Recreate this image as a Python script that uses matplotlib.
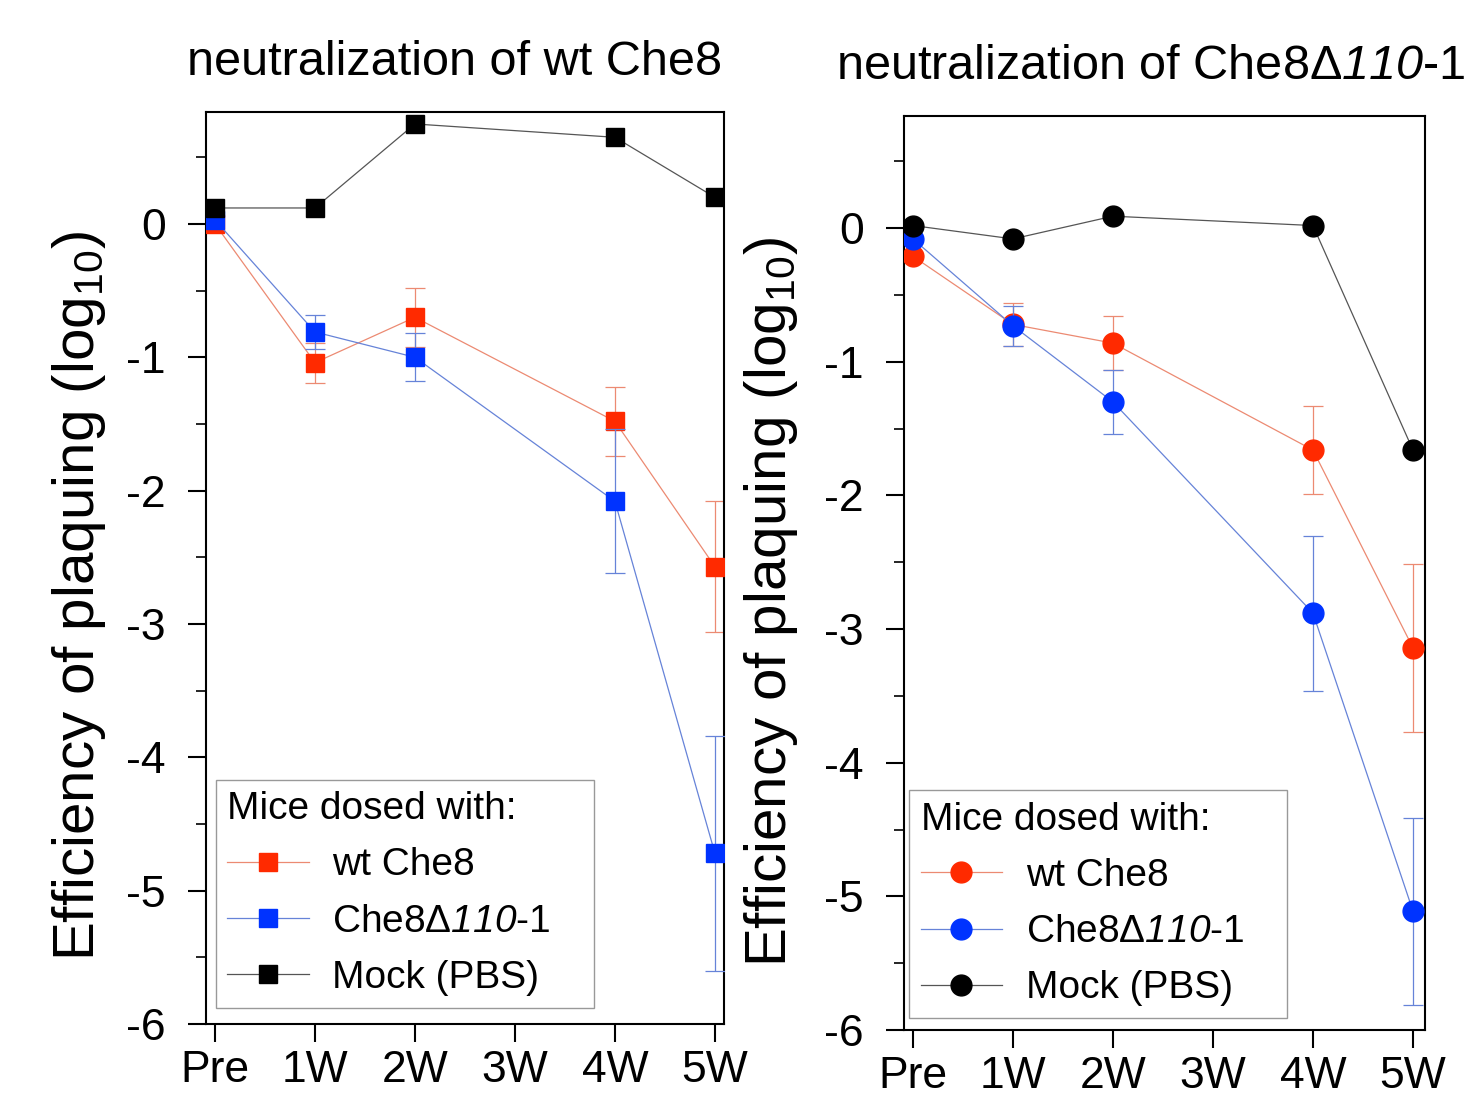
import numpy as np
import matplotlib
matplotlib.use('Agg')
import matplotlib.pyplot as plt
from matplotlib.ticker import MultipleLocator

plt.rcParams['font.family'] = ['Liberation Sans', 'DejaVu Sans']
plt.rcParams['mathtext.fontset'] = 'custom'
plt.rcParams['mathtext.rm'] = 'Liberation Sans'
plt.rcParams['mathtext.it'] = 'Liberation Sans:italic'
# digits are never italic in mathtext's 'it' font, so use sf slot for italic digits
plt.rcParams['mathtext.sf'] = 'Liberation Sans:italic'

# data
week_labels = ['Pre', '1W', '2W', '3W', '4W', '5W']
weeks = [0, 1, 2, 4, 5]

wt_left = [0.0, -1.04, -0.70, -1.48, -2.57]
wt_left_err = [0, 0.15, 0.22, 0.26, 0.49]
d110_left = [0.03, -0.81, -1.00, -2.08, -4.72]
d110_left_err = [0, 0.13, 0.18, 0.54, 0.88]
mock_left = [0.12, 0.12, 0.75, 0.65, 0.20]

wt_right = [-0.21, -0.72, -0.86, -1.66, -3.14]
wt_right_err = [0, 0.16, 0.20, 0.33, 0.63]
d110_right = [-0.08, -0.73, -1.30, -2.88, -5.11]
d110_right_err = [0, 0.15, 0.24, 0.58, 0.70]
mock_right = [0.02, -0.08, 0.09, 0.02, -1.66]

names = ['wt Che8', r'Che8Δ$\mathsf{110}$-1', 'Mock (PBS)']
mark_cols = ['#ff2a00', '#0033ff', '#000000']
line_cols = ['#ec8a72', '#6683d8', '#555555']


def draw_panel(ax, series, errs, marker, msize, xmax, leg_box, lab_xy):
    for i, (vals, err) in enumerate(zip(series, errs)):
        ax.plot(weeks, vals, color=line_cols[i], lw=0.9, marker=marker,
                ms=msize, mfc=mark_cols[i], mec=mark_cols[i], label=names[i],
                zorder=3 + i)
        if err is not None:
            idx = [k for k in range(len(err)) if err[k] > 0]
            ax.errorbar([weeks[k] for k in idx], [vals[k] for k in idx],
                        yerr=[err[k] for k in idx], fmt='none',
                        ecolor=line_cols[i], elinewidth=0.9, capsize=7,
                        capthick=0.9, zorder=2 + i)
    ax.set_xlim(-0.09, xmax)
    ax.set_ylim(-6, 0.84)
    ax.set_xticks(range(len(week_labels)))
    ax.set_xticklabels(week_labels)
    ax.yaxis.set_major_locator(MultipleLocator(1))
    ax.yaxis.set_minor_locator(MultipleLocator(0.5))
    ax.yaxis.set_major_formatter(plt.FuncFormatter(lambda v, p: '%d' % round(v)))
    ax.tick_params(axis='both', which='major', direction='out', length=13,
                   width=1.5, labelsize=32)
    ax.tick_params(axis='y', which='major', pad=16)
    ax.tick_params(axis='x', which='major', pad=6)
    ax.tick_params(axis='y', which='minor', direction='out', length=7, width=1.2)
    for s in ax.spines.values():
        s.set_linewidth(1.5)
    ax.set_ylabel(r'Efficiency of plaquing (log$_{10}$)', fontsize=42)
    ax.yaxis.set_label_coords(lab_xy[0], lab_xy[1])
    leg = ax.legend(title='Mice dosed with:', loc='lower left',
                    bbox_to_anchor=leg_box, mode='expand', borderaxespad=0,
                    fontsize=28, title_fontsize=28, handlelength=2.1,
                    handletextpad=0.6, labelspacing=0.52, fancybox=False,
                    edgecolor='#999999', framealpha=1, borderpad=0.3)
    leg._legend_box.align = 'left'
    leg.get_frame().set_linewidth(1.0)


fig = plt.figure(figsize=(14.66, 11.13), dpi=100)
ax1 = fig.add_axes([0.1405, 0.080, 0.3533, 0.8194])
ax2 = fig.add_axes([0.6166, 0.0746, 0.3554, 0.8212])

draw_panel(ax1, [wt_left, d110_left, mock_left],
           [wt_left_err, d110_left_err, None], 's', 13, 5.09,
           (0.019, 0.018, 0.73, 0.2), (-0.19, 0.47))
draw_panel(ax2, [wt_right, d110_right, mock_right],
           [wt_right_err, d110_right_err, None], 'o', 15, 5.12,
           (0.0096, 0.013, 0.725, 0.2), (-0.20, 0.468))

fig.text(0.310, 0.944, 'neutralization of wt Che8', fontsize=35, ha='center', va='center')
fig.text(0.570, 0.940, r'neutralization of Che8Δ$\mathsf{110}$-1', fontsize=35,
         ha='left', va='center')

fig.savefig('out.png', dpi=100)
